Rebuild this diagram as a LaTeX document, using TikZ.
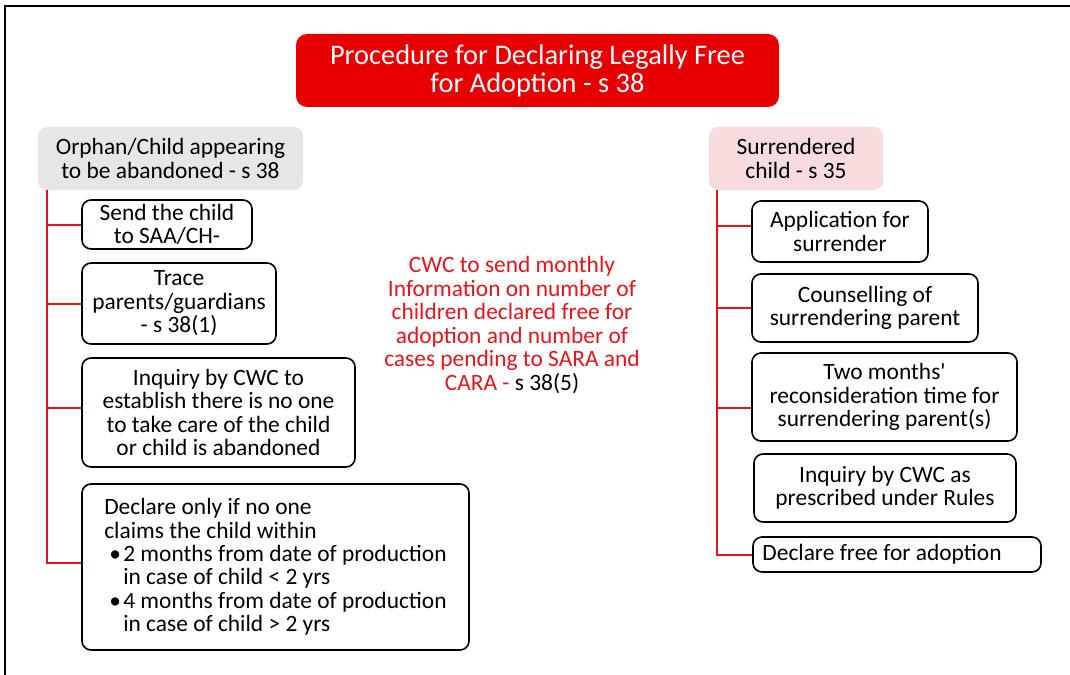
\documentclass[tikz,border=0pt]{standalone}
\usepackage{fontspec}
\setmainfont{Carlito}[Ligatures=TeXOff]
\definecolor{tred}{HTML}{E60000}
\definecolor{cred}{HTML}{E8141B}
\definecolor{hgray}{HTML}{E6E6E6}
\definecolor{hpink}{HTML}{F6DCDC}
\begin{document}
\begin{tikzpicture}[x=1bp,y=-1bp,
  body/.style={font=\fontsize{23.5}{23.5}\selectfont},
  box/.style={body, draw=black, line width=1.6bp, rounded corners=9bp, align=center, inner sep=0pt, fill=white},
  head/.style={body, rounded corners=9bp, align=center, inner sep=0pt},
  conn/.style={draw=cred, line width=2bp}]
\useasboundingbox (0,0) rectangle (1070,675);
\draw[line width=2bp] (5,680) -- (5,6) -- (1075,6);

\node[fill=tred, rounded corners=11bp, text=white, align=center, inner sep=0pt,
      minimum width=483bp, minimum height=73bp,
      font=\fontsize{28.5}{28}\selectfont] (title) at (537.5,70.5)
  {Procedure for Declaring Legally Free\\for Adoption - s 38};

\node[head, fill=hgray, minimum width=265bp, minimum height=63bp] (orph) at (170.5,158.5)
  {Orphan/Child appearing\\to be abandoned - s 38};
\node[head, fill=hpink, minimum width=174bp, minimum height=63bp] (surr) at (796,158.5)
  {Surrendered\\child - s 35};

\node[box, minimum width=170bp, minimum height=49bp] (L1) at (167,224.5)
  {Send the child\\to SAA/CH-};
\node[box, minimum width=194bp, minimum height=81bp] (L2) at (179,303.5)
  {Trace\\parents/guardians\\- s 38(1)};
\node[box, minimum width=273bp, minimum height=109bp] (L3) at (218.5,412.5)
  {Inquiry by CWC to\\establish there is no one\\to take care of the child\\or child is abandoned};
\node[box, align=left, minimum width=387bp, minimum height=166bp] (L4) at (275.5,567)
  {Declare only if no one\\claims the child within\\
   \hspace*{5bp}\makebox[14bp][l]{•}2 months from date of production\\
   \hspace*{19bp}in case of child < 2 yrs\\
   \hspace*{5bp}\makebox[14bp][l]{•}4 months from date of production\\
   \hspace*{19bp}in case of child > 2 yrs};

\node[box, minimum width=176bp, minimum height=61bp] (R1) at (840,231.5)
  {Application for\\surrender};
\node[box, minimum width=226bp, minimum height=68bp] (R2) at (865,308)
  {Counselling of\\surrendering parent};
\node[box, minimum width=265bp, minimum height=88bp] (R3) at (884.5,397)
  {Two months'\\reconsideration time for\\surrendering parent(s)};
\node[box, minimum width=262bp, minimum height=68bp] (R4) at (885,488)
  {Inquiry by CWC as\\prescribed under Rules};
\node[box, minimum width=288bp, minimum height=35bp] (R5) at (897,554.5)
  {Declare free for adoption\hspace*{30bp}};

\node[body, text=cred, align=center] (info) at (512,325)
  {CWC to send monthly\\Information on number of\\children declared free for\\adoption and number of\\cases pending to SARA and\\CARA - {\color{black}s 38(5)}};

% left tree
\coordinate (lt) at ([xshift=9bp]orph.south west);
\draw[conn] (lt) |- ([yshift=4bp]L4.west);
\draw[conn] (lt |- L1.west) -- (L1.west);
\draw[conn] (lt |- L2.west) -- (L2.west);
\draw[conn] ([yshift=4.5bp]L3.west -| lt) -- ([yshift=4.5bp]L3.west);

% right tree
\coordinate (rt) at ([xshift=8bp]surr.south west);
\draw[conn] (rt) |- (R5.west);
\draw[conn] ([yshift=5.5bp]R1.west -| rt) -- ([yshift=5.5bp]R1.west);
\draw[conn] (rt |- R2.west) -- (R2.west);
\draw[conn] ([yshift=-11bp]R3.west -| rt) -- ([yshift=-11bp]R3.west);
\end{tikzpicture}
\end{document}
